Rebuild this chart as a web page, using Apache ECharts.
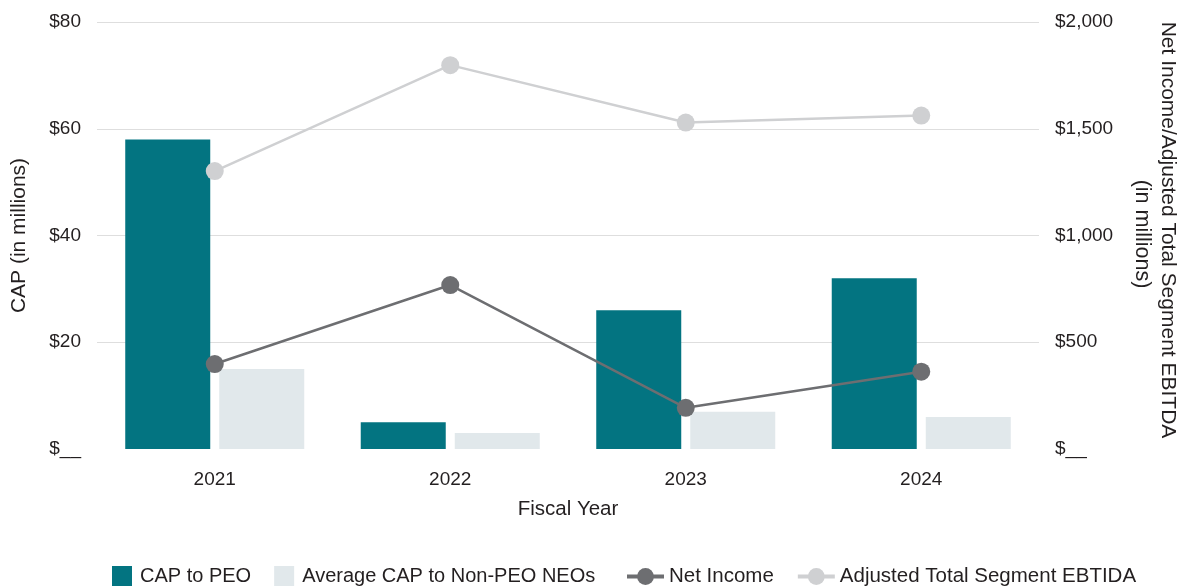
<!DOCTYPE html>
<html>
<head>
<meta charset="utf-8">
<script src="https://cdn.jsdelivr.net/npm/echarts@6/dist/echarts.min.js"></script>
<style>html,body{margin:0;padding:0;background:#fff}#c{width:1179px;height:588px}</style>
</head>
<body>
<div id="c"></div>
<script>
const categories = ['2021', '2022', '2023', '2024'];
const capToPeo = [58, 5, 26, 32];
const avgCapNonPeo = [15, 3, 7, 6];
const netIncome = [398, 768, 193, 362];
const adjEbitda = [1302, 1798, 1529, 1562];
const leftTicks = { min: 0, max: 80, interval: 20 };
const rightTicks = { min: 0, max: 2000, interval: 500 };

const FONT = '"Liberation Sans", Arial, sans-serif';
const TXT = '#231f20';
const chart = echarts.init(document.getElementById('c'), null, { renderer: 'canvas' });

function money(v) {
  if (v === 0) return '$__';
  return '$' + v.toLocaleString('en-US');
}

chart.setOption({
  animation: false,
  textStyle: { fontFamily: FONT, color: TXT },
  grid: { left: 97, right: 140, top: 22, bottom: 139, containLabel: false },
  legend: [
    {
      data: ['CAP to PEO', 'Average CAP to Non-PEO NEOs'],
      left: 112, top: 566, padding: 0, icon: 'rect', itemWidth: 20, itemHeight: 20, itemGap: 23,
      textStyle: { fontFamily: FONT, fontSize: 20, color: TXT, padding: [0, 0, 0, 3] }
    },
    {
      data: ['Net Income', 'Adjusted Total Segment EBTIDA'],
      left: 625, top: 566, padding: 0, itemWidth: 37, itemHeight: 21, itemGap: 22,
      lineStyle: { width: 4 },
      textStyle: { fontFamily: FONT, fontSize: 20.5, color: TXT }
    }
  ],
  xAxis: {
    type: 'category', data: categories,
    axisLine: { show: false }, axisTick: { show: false },
    axisLabel: { fontSize: 19, color: TXT, margin: 21, fontFamily: FONT },
    name: 'Fiscal Year', nameLocation: 'middle', nameGap: 50,
    nameTextStyle: { fontSize: 20.5, color: TXT, fontFamily: FONT }
  },
  yAxis: [
    {
      type: 'value', min: leftTicks.min, max: leftTicks.max, interval: leftTicks.interval,
      axisLine: { show: false }, axisTick: { show: false },
      axisLabel: { fontSize: 19, color: TXT, margin: 16, formatter: money, fontFamily: FONT },
      splitLine: { show: true, lineStyle: { color: ['rgba(0,0,0,0)', '#dedede', '#dedede', '#dedede', '#dedede'], width: 1 } },
      name: 'CAP (in millions)', nameLocation: 'middle', nameGap: 67, nameRotate: 90,
      nameTextStyle: { fontSize: 21, color: TXT, fontFamily: FONT }
    },
    {
      type: 'value', min: rightTicks.min, max: rightTicks.max, interval: rightTicks.interval,
      axisLine: { show: false }, axisTick: { show: false },
      axisLabel: { fontSize: 19, color: TXT, margin: 16, formatter: money, fontFamily: FONT },
      splitLine: { show: false }
    }
  ],
  graphic: [
    {
      type: 'text', x: 1168, y: 230, rotation: -Math.PI / 2,
      style: { text: 'Net Income/Adjusted Total Segment EBITDA', fontSize: 21, fontFamily: FONT, fill: TXT, align: 'center', verticalAlign: 'middle' }
    },
    {
      type: 'text', x: 1142, y: 234, rotation: -Math.PI / 2,
      style: { text: '(in millions)', fontSize: 21.5, fontFamily: FONT, fill: TXT, align: 'center', verticalAlign: 'middle' }
    }
  ],
  series: [
    {
      name: 'CAP to PEO', type: 'bar', data: capToPeo, yAxisIndex: 0,
      barWidth: 85, barGap: '10.6%', itemStyle: { color: '#037481' }
    },
    {
      name: 'Average CAP to Non-PEO NEOs', type: 'bar', data: avgCapNonPeo, yAxisIndex: 0,
      barWidth: 85, barGap: '10.6%', itemStyle: { color: '#e1e8eb' }
    },
    {
      name: 'Net Income', type: 'line', data: netIncome, yAxisIndex: 1,
      symbol: 'circle', symbolSize: 18, z: 5,
      lineStyle: { color: '#6d6e71', width: 2.5 }, itemStyle: { color: '#6d6e71' }
    },
    {
      name: 'Adjusted Total Segment EBTIDA', type: 'line', data: adjEbitda, yAxisIndex: 1,
      symbol: 'circle', symbolSize: 18, z: 5,
      lineStyle: { color: '#cfd0d2', width: 2.5 }, itemStyle: { color: '#cfd0d2' }
    }
  ]
});
</script>
</body>
</html>
